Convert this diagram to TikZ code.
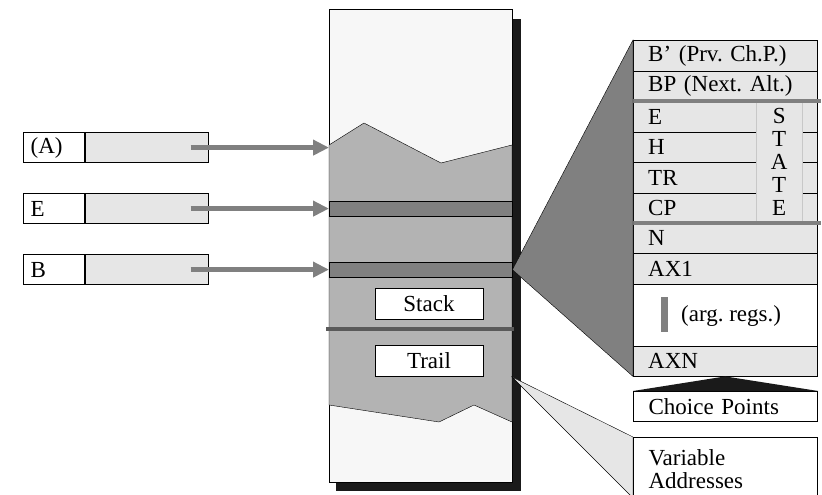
\documentclass[tikz,border=0pt]{standalone}
\usepackage{fontspec}
\setmainfont{Liberation Serif}
\usetikzlibrary{
    arrows.meta,
    positioning,
    calc
}
\frenchspacing
\definecolor{stackbg}{RGB}{247,247,247}
\definecolor{usedgray}{RGB}{179,179,179}
\definecolor{bandgray}{RGB}{128,128,128}
\definecolor{reggray}{RGB}{230,230,230}
\definecolor{shadowblk}{RGB}{26,26,26}
\definecolor{divgray}{RGB}{90,90,90}
\definecolor{stategray}{RGB}{200,200,200}

\begin{document}
\begin{tikzpicture}[x=1pt, y=-1pt,
        font=\fontsize{23}{23}\selectfont,
        regname/.style={draw, line width=1.2pt, fill=white, anchor=north west,
            minimum height=30pt, text width=47pt, inner xsep=7pt, inner ysep=0pt, align=left},
        regval/.style={draw, fill=reggray, minimum height=30pt, minimum width=123pt, inner sep=0pt},
        ptr/.style={line width=5pt, bandgray, -{Triangle[length=16pt, width=15pt]}},
        band/.style={draw, fill=bandgray, anchor=north west, minimum width=183pt,
            minimum height=15pt, inner sep=0pt},
        areabox/.style={draw, fill=white, minimum width=108pt, minimum height=31pt, inner sep=0pt},
        cprow/.style={draw, fill=reggray, anchor=north west, text width=154pt,
            inner xsep=15pt, inner ysep=0pt, align=left}
    ]
        \useasboundingbox (0,0) rectangle (822,495);

        % Memory area with shadow
        \fill[shadowblk] (336,19) rectangle (521,491);
        \node[draw, fill=stackbg, anchor=north west, minimum width=183pt,
            minimum height=473pt, inner sep=0pt] (stack) at (329,9) {};

        % Used part of the area
        \coordinate (wavetip) at (329,145);
        \coordinate (trailtip) at (512,377);
        \draw[fill=usedgray] (wavetip) -- (364,123) -- (441,163) -- (512,145)
            -- (512,422) -- (474,405) -- (439,422) -- (329,405) -- cycle;

        % Frames pointed to by E and B
        \node[band] (eband) at (329,201) {};
        \node[band] (bband) at (329,262) {};

        % Stack / Trail
        \node[areabox] (stacklbl) at (429,303.5) {Stack};
        \draw[line width=4pt, divgray] (326,329) -- (514,329);
        \node[areabox] (traillbl) at (429,361) {Trail};

        % Registers and pointers
        \foreach \id/\txt/\y in {A/{(A)}/132, E/E/193, B/B/254} {
            \node[regname] (name\id) at (23,\y) {\txt};
            \node[regval, right=0pt of name\id] (val\id) {};
            \coordinate (ptr\id) at ($(val\id.east)+(-18,0)$);
            \draw[ptr] (ptr\id) -- (ptr\id -| stack.west);
        }

        % Choice point layout
        \foreach \id/\txt/\top/\h in {bprv/B' (Prv. Ch.P.)/40/31, bp/BP (Next. Alt.)/71/30,
                e/E/101/31, h/H/132/30, tr/TR/162/31, cp/CP/193/30,
                n/N/223/30, axone/AX1/253/31, axn/AXN/346/30} {
            \node[cprow, minimum height=\h pt] (\id) at (633,\top) {\txt};
        }
        \node[draw, fill=white, anchor=north west, minimum width=184pt,
            minimum height=62pt, inner sep=0pt] (args) at (633,284) {};
        \fill[bandgray] (661,297) rectangle (668,332);
        \node[anchor=west, inner sep=0pt] (argtxt) at (681,316) {(arg. regs.)};
        \node[draw=stategray, fill=reggray, anchor=north west, minimum width=46pt,
            minimum height=122pt, inner sep=0pt, align=center] (state) at (756,101)
            {S\\T\\A\\T\\E};
        \draw[line width=4pt, bandgray] (633,101) -- (821,101);
        \draw[line width=4pt, bandgray] (633,223) -- (821,223);

        % B points to the choice point
        \draw[fill=bandgray] (bband.east) -- (bprv.north west) -- (axn.south west) -- cycle;

        % Labels
        \node[cprow, line width=1.2pt, fill=white, minimum height=30pt] (choice) at (633,391)
            {Choice Points};
        \fill[shadowblk] (choice.north west) -- (axn.south) -- (choice.north east) -- cycle;

        \draw[fill=reggray] (trailtip) -- (633,437) -- (633,498) -- cycle;
        \node[cprow, line width=1.2pt, fill=white, minimum height=64pt] (varaddr) at (633,437)
            {Variable\\Addresses};
    \end{tikzpicture}
\end{document}
